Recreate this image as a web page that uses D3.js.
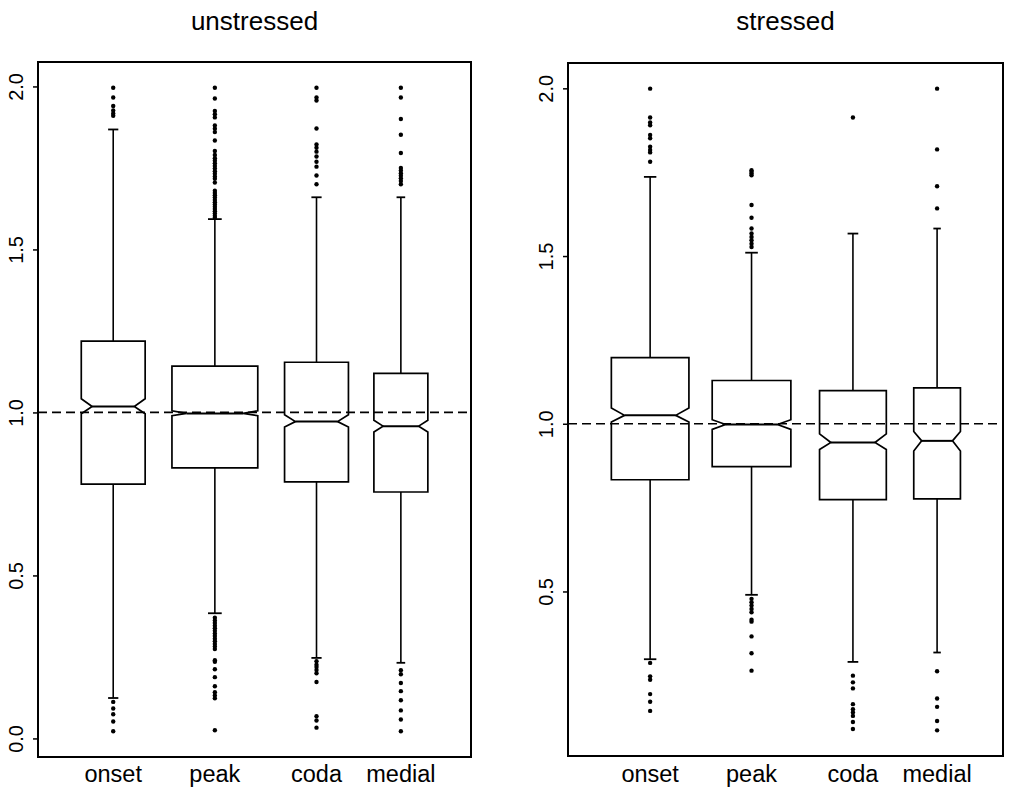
<!DOCTYPE html>
<html>
<head>
<meta charset="utf-8">
<script src="https://cdn.jsdelivr.net/npm/d3@7"></script>
<style>
    body { margin: 0; background: #fff; }
    text { font-family: "Liberation Sans", Arial, Helvetica, sans-serif; fill: #000; }
</style>
</head>
<body>
<div id="chart"></div>
<script>
const categories = ["onset", "peak", "coda", "medial"];
const positions = [1, 2, 3, 3.83];
const yTicksUnstressed = [0.0, 0.5, 1.0, 1.5, 2.0];
const yTicksStressed = [0.5, 1.0, 1.5, 2.0];

// unstressed
const uWhiskerLo = [0.124, 0.384, 0.247, 0.232];
const uQ1 = [0.78, 0.83, 0.787, 0.756];
const uMedian = [1.018, 0.997, 0.972, 0.958];
const uQ3 = [1.219, 1.142, 1.154, 1.12];
const uWhiskerHi = [1.868, 1.593, 1.66, 1.66];
const uConfLo = [0.996, 0.99, 0.955, 0.94];
const uConfHi = [1.042, 1.005, 0.993, 0.976];
const uCount = [1640, 2960, 1640, 1170];
const uOutliers = [
    [1.996, 1.966, 1.94, 1.926, 1.917, 1.91, 0.112, 0.092, 0.074, 0.052, 0.022],
    [1.996, 1.963, 1.925, 1.915, 1.905, 1.88, 1.87, 1.86, 1.834, 1.802, 1.79, 1.78, 1.772, 1.764,
     1.756, 1.748, 1.74, 1.732, 1.724, 1.717, 1.705, 1.68, 1.673, 1.666, 1.659, 1.652, 1.645, 1.638,
     1.631, 1.624, 1.617, 1.61, 1.603, 1.597,
     0.37, 0.362, 0.354, 0.346, 0.338, 0.33, 0.322, 0.314, 0.306, 0.298, 0.29, 0.282, 0.274,
     0.24, 0.235, 0.212, 0.188, 0.16, 0.142, 0.132, 0.123, 0.025],
    [1.996, 1.966, 1.957, 1.871, 1.822, 1.812, 1.80, 1.785, 1.769, 1.754, 1.727, 1.70,
     0.237, 0.226, 0.219, 0.21, 0.2, 0.173, 0.068, 0.055, 0.033],
    [1.996, 1.966, 1.90, 1.852, 1.796, 1.75, 1.742, 1.734, 1.726, 1.718, 1.71, 1.70,
     0.209, 0.197, 0.17, 0.145, 0.117, 0.086, 0.058, 0.022]
];

// stressed
const sWhiskerLo = [0.298, 0.49, 0.29, 0.318];
const sQ1 = [0.833, 0.872, 0.774, 0.776];
const sMedian = [1.025, 0.998, 0.944, 0.949];
const sQ3 = [1.197, 1.129, 1.099, 1.107];
const sWhiskerHi = [1.736, 1.51, 1.567, 1.582];
const sConfLo = [1.005, 0.983, 0.923, 0.919];
const sConfHi = [1.047, 1.012, 0.97, 0.977];
const sCount = [2430, 2500, 1800, 880];
const sOutliers = [
    [1.999, 1.913, 1.898, 1.89, 1.861, 1.851, 1.826, 1.816, 1.809, 1.781,
     0.287, 0.247, 0.237, 0.194, 0.171, 0.144],
    [1.756, 1.751, 1.746, 1.741, 1.652, 1.614, 1.582, 1.567, 1.557, 1.547, 1.537, 1.527,
     0.478, 0.468, 0.458, 0.448, 0.438, 0.416, 0.41, 0.366, 0.316, 0.264],
    [1.913, 0.249, 0.229, 0.211, 0.164, 0.149, 0.139, 0.129, 0.111, 0.09],
    [1.999, 1.818, 1.708, 1.642, 0.262, 0.181, 0.156, 0.114, 0.086]
];

const svgWidth = 1009;
const svgHeight = 799;

function buildStats(lo, q1, med, q3, hi, cLo, cHi, n, out) {
    return categories.map((c, i) => ({
        cat: c, at: positions[i],
        lo: lo[i], q1: q1[i], med: med[i], q3: q3[i], hi: hi[i],
        confLo: cLo[i], confHi: cHi[i], n: n[i], outliers: out[i]
    }));
}

function drawPanel(svg, opts) {
    const { title, stats, ticks, left, right, top, bottom, xDomain } = opts;
    const g = svg.append("g");

    // R style 4% range expansion
    const all = stats.flatMap(d => [d.lo, d.hi, ...d.outliers]);
    const lo = d3.min(all), hi = d3.max(all);
    const pad = (hi - lo) * 0.04;

    const x = d3.scaleLinear().domain(xDomain).range([left, right]);
    const y = d3.scaleLinear().domain([lo - pad, hi + pad]).range([bottom, top]);
    const unit = x(2) - x(1);
    const boxW = d3.scaleSqrt().domain([0, 3000]).range([0, 0.85 * unit]);

    // frame
    g.append("rect")
        .attr("x", left)
        .attr("y", top)
        .attr("width", right - left)
        .attr("height", bottom - top)
        .attr("fill", "none")
        .attr("stroke", "#000")
        .attr("stroke-width", 2);

    // y axis
    const yAxis = g.append("g")
        .attr("transform", `translate(${left},0)`)
        .call(d3.axisLeft(y).tickValues(ticks).tickSize(5).tickFormat(d3.format(".1f")));
    yAxis.select(".domain").remove();
    yAxis.selectAll(".tick line").attr("stroke", "#000").attr("stroke-width", 1.5);
    yAxis.selectAll(".tick text")
        .attr("x", null)
        .attr("dy", null)
        .attr("transform", "translate(-15,0) rotate(-90)")
        .attr("text-anchor", "middle")
        .style("font-size", "20px")
        .style("font-family", "'Liberation Sans', Arial, sans-serif");

    // title
    g.append("text")
        .attr("x", (left + right) / 2)
        .attr("y", 30)
        .attr("text-anchor", "middle")
        .style("font-size", "26px")
        .text(title);

    // category labels
    g.selectAll(".cat-label")
        .data(stats)
        .enter()
        .append("text")
        .attr("class", "cat-label")
        .attr("x", d => x(d.at))
        .attr("y", 782)
        .attr("text-anchor", "middle")
        .style("font-size", "23.5px")
        .text(d => d.cat);

    const boxes = g.selectAll(".box")
        .data(stats)
        .enter()
        .append("g")
        .attr("class", "box");

    // whiskers
    boxes.append("line")
        .attr("x1", d => x(d.at)).attr("x2", d => x(d.at))
        .attr("y1", d => y(d.q3)).attr("y2", d => y(d.hi))
        .attr("stroke", "#000").attr("stroke-width", 1.6);
    boxes.append("line")
        .attr("x1", d => x(d.at)).attr("x2", d => x(d.at))
        .attr("y1", d => y(d.q1)).attr("y2", d => y(d.lo))
        .attr("stroke", "#000").attr("stroke-width", 1.6);

    // staples
    ["hi", "lo"].forEach(k => {
        boxes.append("line")
            .attr("x1", d => x(d.at) - boxW(d.n) * 0.08)
            .attr("x2", d => x(d.at) + boxW(d.n) * 0.08)
            .attr("y1", d => y(d[k])).attr("y2", d => y(d[k]))
            .attr("stroke", "#000").attr("stroke-width", 1.8);
    });

    // notched box
    boxes.append("path")
        .attr("d", d => {
            const cx = x(d.at), w = boxW(d.n), ins = w * 0.17;
            const l = cx - w / 2, r = cx + w / 2;
            return d3.line()([
                [l, y(d.q3)], [l, y(d.confHi)], [l + ins, y(d.med)], [l, y(d.confLo)],
                [l, y(d.q1)], [r, y(d.q1)], [r, y(d.confLo)], [r - ins, y(d.med)],
                [r, y(d.confHi)], [r, y(d.q3)]
            ]) + "Z";
        })
        .attr("fill", "#fff")
        .attr("stroke", "#000")
        .attr("stroke-width", 1.7);

    // median
    boxes.append("line")
        .attr("x1", d => x(d.at) - boxW(d.n) / 2 + boxW(d.n) * 0.17)
        .attr("x2", d => x(d.at) + boxW(d.n) / 2 - boxW(d.n) * 0.17)
        .attr("y1", d => y(d.med)).attr("y2", d => y(d.med))
        .attr("stroke", "#000").attr("stroke-width", 2);

    // dashed reference line at 1.0, over the boxes
    g.append("line")
        .attr("x1", left)
        .attr("x2", right)
        .attr("y1", y(1))
        .attr("y2", y(1))
        .attr("stroke", "#000")
        .attr("stroke-width", 1.7)
        .attr("stroke-dasharray", "9,5");

    // outliers
    boxes.selectAll(".out")
        .data(d => d.outliers.map(v => ({ at: d.at, v: v })))
        .enter()
        .append("circle")
        .attr("class", "out")
        .attr("cx", d => x(d.at))
        .attr("cy", d => y(d.v))
        .attr("r", 2.2)
        .attr("fill", "#000");
}

function createChart() {
    const svg = d3.select("#chart")
        .append("svg")
        .attr("width", svgWidth)
        .attr("height", svgHeight);

    drawPanel(svg, {
        title: "unstressed",
        stats: buildStats(uWhiskerLo, uQ1, uMedian, uQ3, uWhiskerHi, uConfLo, uConfHi, uCount, uOutliers),
        ticks: yTicksUnstressed,
        left: 38, right: 471, top: 62, bottom: 757,
        xDomain: [0.26, 4.52]
    });

    drawPanel(svg, {
        title: "stressed",
        stats: buildStats(sWhiskerLo, sQ1, sMedian, sQ3, sWhiskerHi, sConfLo, sConfHi, sCount, sOutliers),
        ticks: yTicksStressed,
        left: 568, right: 1003, top: 63, bottom: 756,
        xDomain: [0.19, 4.48]
    });
}

document.addEventListener("DOMContentLoaded", createChart);
</script>
</body>
</html>
